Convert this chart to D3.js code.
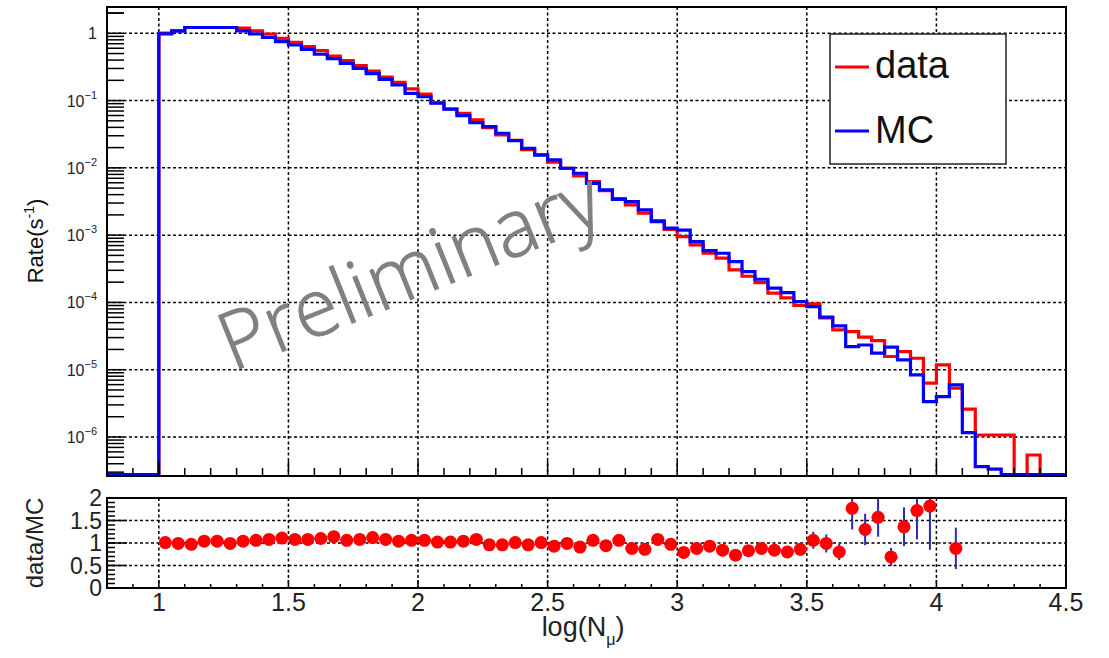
<!DOCTYPE html>
<html>
<head>
<meta charset="utf-8">
<script src="https://cdn.jsdelivr.net/npm/d3@7"></script>
<style>
  body { margin: 0; background: #fff; }
  svg { display: block; font-family: "Liberation Sans", Arial, sans-serif; }
</style>
</head>
<body>
<svg id="chart" width="1109" height="658"></svg>
<script>
// histogram bins: lower edges from 1.0 in steps of 0.05 (bins below 1.0 are empty)
var binWidth = 0.05;
var binStarts = d3.range(70).map(function(i) { return +(1 + i * binWidth).toFixed(2); });

// rate (s^-1) per bin
var dataRate = [1.01, 1.10, 1.22, 1.22, 1.22, 1.22, 1.19, 1.09, 0.976, 0.843,
	0.735, 0.632, 0.551, 0.46, 0.392, 0.33, 0.275, 0.224, 0.187, 0.149,
	0.125, 0.093, 0.0755, 0.0648, 0.0515, 0.0395, 0.031, 0.0257, 0.0187, 0.0157,
	0.0122, 0.0098, 0.0076, 0.00624, 0.0046, 0.0035, 0.00281, 0.00212, 0.00165, 0.00122,
	0.00095, 0.000715, 0.00054, 0.000454, 0.000305, 0.000245, 0.000197, 0.000137, 0.000117, 9.0e-5,
	9.5e-5, 5.9e-5, 3.9e-5, 3.68e-5, 3.04e-5, 2.7e-5, 1.57e-5, 1.86e-5, 1.48e-5, 6.3e-6,
	1.18e-5, 5.3e-6, 2.59e-6, 1.07e-6, 1.07e-6, 1.07e-6, 0, 5.4e-7, 0, 0];

var mcRate = [0.98, 1.08, 1.22, 1.22, 1.22, 1.22, 1.09, 0.976, 0.872, 0.75,
	0.67, 0.578, 0.488, 0.42, 0.358, 0.302, 0.251, 0.207, 0.171, 0.128,
	0.114, 0.0912, 0.0743, 0.0597, 0.047, 0.041, 0.0327, 0.0254, 0.0195, 0.0155,
	0.0131, 0.00986, 0.00831, 0.0059, 0.0047, 0.00341, 0.00315, 0.00237, 0.00159, 0.00127,
	0.00119, 0.0008, 0.000589, 0.000538, 0.000404, 0.000287, 0.000221, 0.000163, 0.00014, 0.000103,
	8.67e-5, 6.03e-5, 4.48e-5, 2.2e-5, 2.33e-5, 1.76e-5, 2.16e-5, 1.4e-5, 8.4e-6, 3.36e-6,
	3.98e-6, 5.94e-6, 1.16e-6, 3.63e-7, 3.32e-7, 0, 0, 0, 0, 0];

// data/MC ratio points (null = off scale / not drawn)
var ratio = [1.01, 0.99, 0.97, 1.04, 1.04, 0.99, 1.04, 1.06, 1.08, 1.11,
	1.08, 1.08, 1.10, 1.14, 1.06, 1.08, 1.12, 1.08, 1.04, 1.06,
	1.06, 1.02, 1.02, 1.04, 1.08, 0.96, 0.96, 1.01, 0.96, 1.01,
	0.93, 0.99, 0.91, 1.06, 0.94, 1.06, 0.88, 0.86, 1.08, 0.97,
	0.79, 0.88, 0.93, 0.84, 0.73, 0.83, 0.88, 0.84, 0.80, 0.86,
	1.06, 0.99, 0.80, 1.77, 1.30, 1.57, 0.69, 1.36, 1.72, 1.82,
	null, 0.88];

var ratioErr = [0.01, 0.01, 0.01, 0.01, 0.01, 0.01, 0.01, 0.01, 0.01, 0.01,
	0.01, 0.01, 0.01, 0.01, 0.01, 0.01, 0.01, 0.01, 0.01, 0.01,
	0.01, 0.01, 0.01, 0.01, 0.01, 0.01, 0.01, 0.01, 0.02, 0.02,
	0.02, 0.02, 0.02, 0.02, 0.02, 0.03, 0.03, 0.03, 0.03, 0.03,
	0.03, 0.04, 0.04, 0.04, 0.05, 0.06, 0.07, 0.07, 0.08, 0.09,
	0.19, 0.20, 0.18, 0.47, 0.35, 0.43, 0.20, 0.43, 0.64, 0.97,
	0, 0.46];

var xMajor = [1, 1.5, 2, 2.5, 3, 3.5, 4, 4.5];
var xMajorLabels = ['1', '1.5', '2', '2.5', '3', '3.5', '4', '4.5'];
var yDecades = [1, 1e-1, 1e-2, 1e-3, 1e-4, 1e-5, 1e-6];
var yDecadeExp = [0, -1, -2, -3, -4, -5, -6];
var ratioTicks = [0, 0.5, 1, 1.5, 2];
var ratioTickLabels = ['0', '0.5', '1', '1.5', '2'];

var seriesNames = ['data', 'MC'];
var seriesColors = ['#ff0000', '#0000ff'];


var svg = d3.select('#chart');
var LEFT = 107, RIGHT = 1066;
var TOP1 = 7, BOT1 = 476;
var TOP2 = 498, BOT2 = 588;

var x = d3.scaleLinear().domain([0.8, 4.5]).range([LEFT, RIGHT]);
var y = d3.scaleLog().domain([2.63e-7, 2.46]).range([BOT1, TOP1]);
var yr = d3.scaleLinear().domain([0, 2]).range([BOT2, TOP2]);

var GRID_DASH = '3,2.5';

function minorX() {
	return d3.range(9, 46).map(function(v) { return v / 10; })
		.filter(function(v) { return Math.abs(v * 2 - Math.round(v * 2)) > 1e-6; });
}

// ---------- top panel ----------
var topG = svg.append('g');

topG.selectAll('line.vgrid').data(xMajor.slice(0, -1)).enter().append('line')
	.attr('x1', function(d) { return x(d); }).attr('x2', function(d) { return x(d); })
	.attr('y1', TOP1).attr('y2', BOT1)
	.attr('stroke', '#000').attr('stroke-width', 1.5).attr('stroke-dasharray', GRID_DASH);

topG.selectAll('line.hgrid').data(yDecades).enter().append('line')
	.attr('x1', LEFT).attr('x2', RIGHT)
	.attr('y1', function(d) { return y(d); }).attr('y2', function(d) { return y(d); })
	.attr('stroke', '#000').attr('stroke-width', 1.5).attr('stroke-dasharray', GRID_DASH);

// histogram step path, empty bins drawn on the axis floor
function histPath(values) {
	var floorY = BOT1 - 1.5;
	var pts = [[x(0.8), floorY]];
	values.forEach(function(v, i) {
		var yy = v > 0 ? y(v) : floorY;
		pts.push([x(binStarts[i]), yy]);
	});
	pts.push([RIGHT, pts[pts.length - 1][1]]);
	return d3.line().curve(d3.curveStepAfter)(pts);
}

[dataRate, mcRate].forEach(function(vals, i) {
	topG.append('path')
		.attr('d', histPath(vals))
		.attr('fill', 'none')
		.attr('stroke', seriesColors[i])
		.attr('stroke-width', 3.2)
		.attr('stroke-linejoin', 'miter');
});

// frame
topG.append('rect').attr('x', LEFT).attr('y', TOP1).attr('width', RIGHT - LEFT).attr('height', BOT1 - TOP1)
	.attr('fill', 'none').attr('stroke', '#000').attr('stroke-width', 2);

// y ticks (log, inward)
var yTicksAll = [];
for (var e = -7; e <= 0; e++) {
	for (var m = 1; m <= 9; m++) {
		var v = m * Math.pow(10, e);
		if (v >= 2.63e-7 && v <= 2.46) yTicksAll.push(v);
	}
}
yTicksAll.push(2);
topG.selectAll('line.ytick').data(yTicksAll).enter().append('line')
	.attr('x1', LEFT).attr('x2', LEFT + 17)
	.attr('y1', function(d) { return y(d); }).attr('y2', function(d) { return y(d); })
	.attr('stroke', '#000').attr('stroke-width', 1.5);

// x ticks on the bottom of top panel
topG.selectAll('line.xminor').data(minorX()).enter().append('line')
	.attr('x1', function(d) { return x(d); }).attr('x2', function(d) { return x(d); })
	.attr('y1', BOT1).attr('y2', BOT1 - 8)
	.attr('stroke', '#000').attr('stroke-width', 1.5);
topG.selectAll('line.xmajor').data(xMajor).enter().append('line')
	.attr('x1', function(d) { return x(d); }).attr('x2', function(d) { return x(d); })
	.attr('y1', BOT1).attr('y2', BOT1 - 15)
	.attr('stroke', '#000').attr('stroke-width', 1.5);

// y labels
var ylab = topG.selectAll('text.ylab').data(yDecades).enter().append('text')
	.attr('x', 97).attr('y', function(d) { return y(d) + 6; })
	.attr('text-anchor', 'end')
	.attr('font-size', 16)
	.attr('fill', '#223');
ylab.each(function(d, i) {
	var t = d3.select(this);
	if (yDecadeExp[i] === 0) {
		t.text('1');
	} else {
		t.append('tspan').text('10');
		t.append('tspan').attr('font-size', 11).attr('dy', -8).text('\u2212' + (-yDecadeExp[i]));
	}
});

var rateLab = svg.append('text')
	.attr('transform', 'translate(43,241) rotate(-90)')
	.attr('text-anchor', 'middle')
	.attr('font-size', 22)
	.attr('fill', '#111');
rateLab.append('tspan').text('Rate(s');
rateLab.append('tspan').attr('font-size', 14).attr('dy', -9).text('-1');
rateLab.append('tspan').attr('dy', 9).text(')');

// legend
var leg = svg.append('g');
leg.append('rect').attr('x', 830).attr('y', 34).attr('width', 176).attr('height', 130)
	.attr('fill', '#fff').attr('stroke', '#222').attr('stroke-width', 1.5);
seriesNames.forEach(function(name, i) {
	var ly = 67 + i * 64;
	leg.append('line').attr('x1', 835).attr('x2', 869).attr('y1', ly).attr('y2', ly)
		.attr('stroke', seriesColors[i]).attr('stroke-width', 3.2);
	leg.append('text').attr('x', 875).attr('y', 78 + i * 65).attr('font-size', 38)
		.attr('fill', '#111').text(name);
});

// ---------- ratio panel ----------
var botG = svg.append('g');

botG.selectAll('line.vgrid').data(xMajor.slice(0, -1)).enter().append('line')
	.attr('x1', function(d) { return x(d); }).attr('x2', function(d) { return x(d); })
	.attr('y1', TOP2).attr('y2', BOT2)
	.attr('stroke', '#000').attr('stroke-width', 1.5).attr('stroke-dasharray', GRID_DASH);
botG.selectAll('line.hgrid').data([0.5, 1, 1.5]).enter().append('line')
	.attr('x1', LEFT).attr('x2', RIGHT)
	.attr('y1', function(d) { return yr(d); }).attr('y2', function(d) { return yr(d); })
	.attr('stroke', '#000').attr('stroke-width', 1.5).attr('stroke-dasharray', GRID_DASH);

svg.append('defs').append('clipPath').attr('id', 'ratioClip')
	.append('rect').attr('x', LEFT).attr('y', TOP2).attr('width', RIGHT - LEFT).attr('height', BOT2 - TOP2);

var pts = [];
ratio.forEach(function(r, i) {
	if (r !== null) pts.push({ c: binStarts[i] + binWidth / 2, r: r, e: ratioErr[i] });
});

var errG = botG.append('g').attr('clip-path', 'url(#ratioClip)');
errG.selectAll('line.ey').data(pts).enter().append('line')
	.attr('x1', function(d) { return x(d.c); }).attr('x2', function(d) { return x(d.c); })
	.attr('y1', function(d) { return yr(d.r - d.e); }).attr('y2', function(d) { return yr(d.r + d.e); })
	.attr('stroke', '#2a2ab8').attr('stroke-width', 2);
errG.selectAll('line.ex').data(pts).enter().append('line')
	.attr('x1', function(d) { return x(d.c - binWidth / 2); }).attr('x2', function(d) { return x(d.c + binWidth / 2); })
	.attr('y1', function(d) { return yr(d.r); }).attr('y2', function(d) { return yr(d.r); })
	.attr('stroke', '#2a2ab8').attr('stroke-width', 1);
errG.selectAll('circle').data(pts).enter().append('circle')
	.attr('cx', function(d) { return x(d.c); })
	.attr('cy', function(d) { return yr(d.r); })
	.attr('r', 6.5)
	.attr('fill', '#ff0000');

botG.append('rect').attr('x', LEFT).attr('y', TOP2).attr('width', RIGHT - LEFT).attr('height', BOT2 - TOP2)
	.attr('fill', 'none').attr('stroke', '#000').attr('stroke-width', 2);

// ratio y ticks
botG.selectAll('line.rminor').data(d3.range(0, 21).map(function(v) { return v / 10; })).enter().append('line')
	.attr('x1', LEFT).attr('x2', LEFT + 8)
	.attr('y1', function(d) { return yr(d); }).attr('y2', function(d) { return yr(d); })
	.attr('stroke', '#000').attr('stroke-width', 1.5);
botG.selectAll('line.rmajor').data(ratioTicks).enter().append('line')
	.attr('x1', LEFT).attr('x2', LEFT + 20)
	.attr('y1', function(d) { return yr(d); }).attr('y2', function(d) { return yr(d); })
	.attr('stroke', '#000').attr('stroke-width', 1.5);
botG.selectAll('text.rlab').data(ratioTicks).enter().append('text')
	.attr('x', 102).attr('y', function(d) { return yr(d) + 8; })
	.attr('text-anchor', 'end').attr('font-size', 23).attr('fill', '#222')
	.text(function(d, i) { return ratioTickLabels[i]; });

// ratio x ticks + labels
botG.selectAll('line.xminor').data(minorX()).enter().append('line')
	.attr('x1', function(d) { return x(d); }).attr('x2', function(d) { return x(d); })
	.attr('y1', BOT2).attr('y2', BOT2 - 4)
	.attr('stroke', '#000').attr('stroke-width', 1.5);
botG.selectAll('line.xmajor').data(xMajor).enter().append('line')
	.attr('x1', function(d) { return x(d); }).attr('x2', function(d) { return x(d); })
	.attr('y1', BOT2).attr('y2', BOT2 - 8)
	.attr('stroke', '#000').attr('stroke-width', 1.5);
botG.selectAll('text.xlab').data(xMajor).enter().append('text')
	.attr('x', function(d) { return x(d); }).attr('y', 611)
	.attr('text-anchor', 'middle').attr('font-size', 25).attr('fill', '#222')
	.text(function(d, i) { return xMajorLabels[i]; });

var xt = svg.append('text').attr('x', 583).attr('y', 636)
	.attr('text-anchor', 'middle').attr('font-size', 27).attr('fill', '#222');
xt.append('tspan').text('log(N');
xt.append('tspan').attr('font-size', 16).attr('dy', 9).text('\u03bc');
xt.append('tspan').attr('dy', -9).text(')');

svg.append('text')
	.attr('transform', 'translate(43,543) rotate(-90)')
	.attr('text-anchor', 'middle').attr('font-size', 24).attr('fill', '#222')
	.text('data/MC');

// watermark
svg.append('text')
	.attr('transform', 'translate(420,296) rotate(-22)')
	.attr('text-anchor', 'middle')
	.attr('font-family', '"Open Sans", "Liberation Sans", sans-serif')
	.attr('font-weight', 300)
	.attr('font-size', 80)
	.attr('fill', '#808080')
	.attr('stroke', '#808080')
	.attr('stroke-width', 1)
	.text('Preliminary');
</script>
</body>
</html>
